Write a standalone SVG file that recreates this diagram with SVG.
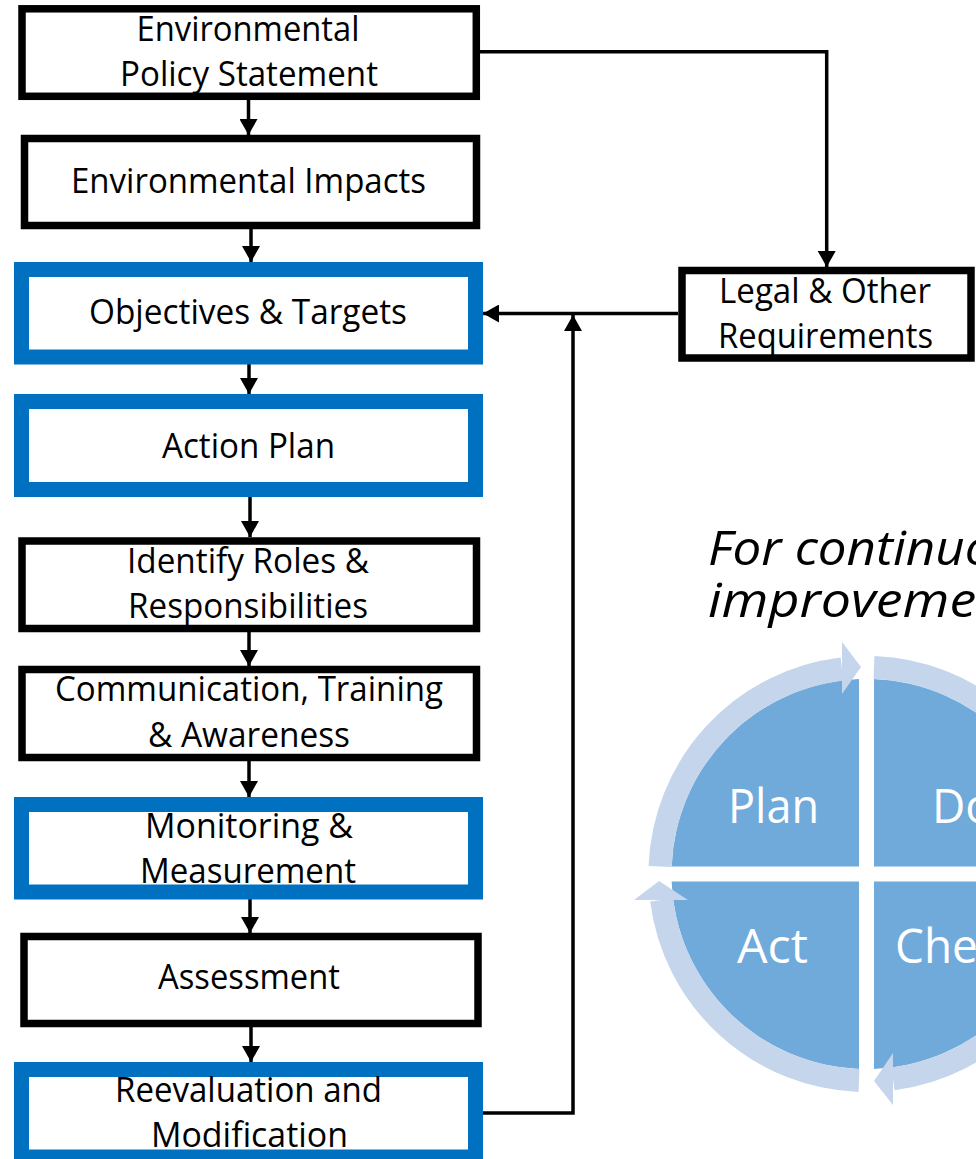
<svg xmlns="http://www.w3.org/2000/svg" width="976" height="1159" viewBox="0 0 976 1159">
<style>
.bk{fill:#fff;stroke:#000;stroke-width:7.5}
.bb{fill:#fff;stroke:#0070C0;stroke-width:15}
.t{font-family:"Open Sans","Noto Sans",sans-serif;font-size:34px;fill:#000;text-anchor:middle}
.c{fill:none;stroke:#000;stroke-width:3.5}
.ring{fill:none;stroke:#C5D6EC;stroke-width:23}
.head{fill:#C5D6EC}
.quad{fill:#6FAADB}
.q{font-family:"Open Sans","Noto Sans",sans-serif;font-size:47px;fill:#fff}
.it{font-family:"Open Sans","Noto Sans",sans-serif;font-size:48px;font-style:italic;fill:#000}
</style>
<defs>
<marker id="ah" viewBox="0 0 16 18" refX="16" refY="9" markerWidth="16" markerHeight="18" markerUnits="userSpaceOnUse" orient="auto">
<path d="M0,0 L16,9 L0,18 Z" fill="#000"/>
</marker>
</defs>
<rect width="976" height="1159" fill="#fff"/>

<g id="connectors">
<line class="c" x1="248.5" y1="97" x2="248.5" y2="135" marker-end="url(#ah)"/>
<line class="c" x1="251" y1="226" x2="251" y2="262" marker-end="url(#ah)"/>
<line class="c" x1="249" y1="358" x2="249" y2="394" marker-end="url(#ah)"/>
<line class="c" x1="250" y1="490" x2="250" y2="537" marker-end="url(#ah)"/>
<line class="c" x1="249" y1="626" x2="249" y2="666" marker-end="url(#ah)"/>
<line class="c" x1="249" y1="754" x2="249" y2="797" marker-end="url(#ah)"/>
<line class="c" x1="250" y1="893" x2="250" y2="933" marker-end="url(#ah)"/>
<line class="c" x1="251" y1="1021" x2="251" y2="1062" marker-end="url(#ah)"/>
<path class="c" d="M480,51.7 L826.7,51.7 L826.7,267" marker-end="url(#ah)"/>
<path class="c" d="M678,313.5 L483,313.5" marker-end="url(#ah)"/>
<path class="c" d="M477,1113 L573,1113 L573,315" marker-end="url(#ah)"/>
</g>

<g id="n-policy">
<rect class="bk" x="22" y="8.8" width="454.3" height="87.5"/>
<text class="t" x="248" y="41" textLength="223" lengthAdjust="spacingAndGlyphs">Environmental</text>
<text class="t" x="249" y="86" textLength="258" lengthAdjust="spacingAndGlyphs">Policy Statement</text>
</g>
<g id="n-impacts">
<rect class="bk" x="24.5" y="138.5" width="452" height="87"/>
<text class="t" x="248.5" y="193" textLength="355" lengthAdjust="spacingAndGlyphs">Environmental Impacts</text>
</g>
<g id="n-objectives">
<rect class="bb" x="21.5" y="269.5" width="454" height="87.5"/>
<text class="t" x="248" y="324" textLength="318" lengthAdjust="spacingAndGlyphs">Objectives &amp; Targets</text>
</g>
<g id="n-action">
<rect class="bb" x="21.5" y="401.5" width="454" height="88"/>
<text class="t" x="248.5" y="458" textLength="173" lengthAdjust="spacingAndGlyphs">Action Plan</text>
</g>
<g id="n-roles">
<rect class="bk" x="22" y="541" width="454.5" height="87.5"/>
<text class="t" x="248" y="573" textLength="242" lengthAdjust="spacingAndGlyphs">Identify Roles &amp;</text>
<text class="t" x="248" y="618" textLength="240" lengthAdjust="spacingAndGlyphs">Responsibilities</text>
</g>
<g id="n-communication">
<rect class="bk" x="22" y="669.5" width="454.5" height="88"/>
<text class="t" x="249" y="701" textLength="388" lengthAdjust="spacingAndGlyphs">Communication, Training</text>
<text class="t" x="249" y="747" textLength="202" lengthAdjust="spacingAndGlyphs">&amp; Awareness</text>
</g>
<g id="n-monitoring">
<rect class="bb" x="21.5" y="804.5" width="454" height="87.5"/>
<text class="t" x="249" y="838" textLength="208" lengthAdjust="spacingAndGlyphs">Monitoring &amp;</text>
<text class="t" x="248" y="883" textLength="216" lengthAdjust="spacingAndGlyphs">Measurement</text>
</g>
<g id="n-assessment">
<rect class="bk" x="24" y="936.5" width="454" height="87"/>
<text class="t" x="249" y="989" textLength="182" lengthAdjust="spacingAndGlyphs">Assessment</text>
</g>
<g id="n-reevaluation">
<rect class="bb" x="21.5" y="1069.5" width="454" height="87.5"/>
<text class="t" x="248.5" y="1102" textLength="267" lengthAdjust="spacingAndGlyphs">Reevaluation and</text>
<text class="t" x="249.5" y="1147" textLength="197" lengthAdjust="spacingAndGlyphs">Modification</text>
</g>
<g id="n-legal">
<rect class="bk" x="682" y="270.5" width="289" height="87.5"/>
<text class="t" x="825" y="303" textLength="212" lengthAdjust="spacingAndGlyphs">Legal &amp; Other</text>
<text class="t" x="825.5" y="348" textLength="215" lengthAdjust="spacingAndGlyphs">Requirements</text>
</g>

<g id="n-title">
<text class="it" x="708" y="565" textLength="337" lengthAdjust="spacingAndGlyphs">For continuous</text>
<text class="it" x="708" y="617" textLength="317" lengthAdjust="spacingAndGlyphs">improvement</text>
</g>

<g id="n-pdca">
<path class="quad" d="M859,866.5 L671.6,866.5 A195,195 0 0 1 859,679.1 Z"/>
<path class="quad" d="M874,866.5 L874,679.1 A195,195 0 0 1 1061.4,866.5 Z"/>
<path class="quad" d="M874,881.5 L1061.4,881.5 A195,195 0 0 1 874,1068.9 Z"/>
<path class="quad" d="M859,881.5 L859,1068.9 A195,195 0 0 1 671.6,881.5 Z"/>
<path class="ring" d="M660.1,866.5 A206.5,206.5 0 0 1 842,669"/>
<polygon class="head" points="842,642 861,667 842,694"/>
<path class="ring" d="M874,667.6 A206.5,206.5 0 0 1 1071.4,848"/>
<polygon class="head" points="1045,848 1098,848 1072,867"/>
<path class="ring" d="M1072.9,881.5 A206.5,206.5 0 0 1 893,1078.8"/>
<polygon class="head" points="893,1053 874,1081 893,1105"/>
<path class="ring" d="M859,1080.4 A206.5,206.5 0 0 1 661.6,900"/>
<polygon class="head" points="634,900 659,881 688,900"/>
<text class="q" x="728" y="823" textLength="91" lengthAdjust="spacingAndGlyphs">Plan</text>
<text class="q" x="932" y="823" textLength="61" lengthAdjust="spacingAndGlyphs">Do</text>
<text class="q" x="737" y="963" textLength="71" lengthAdjust="spacingAndGlyphs">Act</text>
<text class="q" x="895" y="963" textLength="129" lengthAdjust="spacingAndGlyphs">Check</text>
</g>
</svg>
